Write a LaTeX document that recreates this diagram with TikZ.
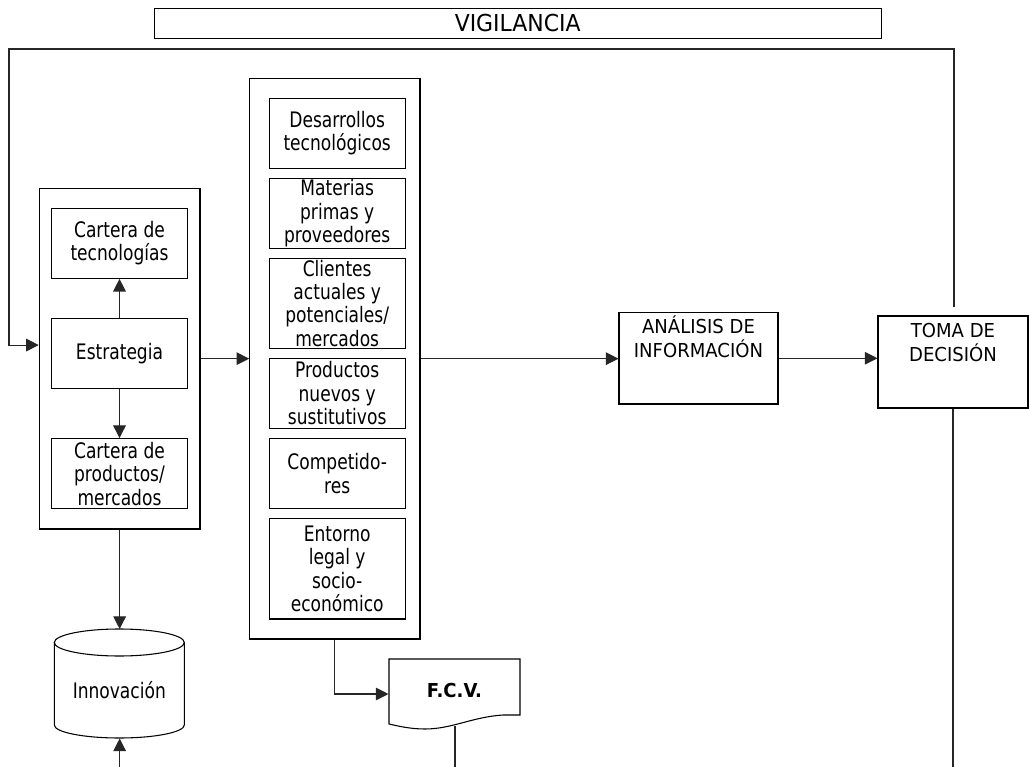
\documentclass[tikz,border=0pt]{standalone}
\usepackage{fontspec}
\setmainfont{DejaVu Sans}[FakeStretch=0.8]
\newfontfamily\capsfont{DejaVu Sans}[FakeStretch=0.94]
\usetikzlibrary{arrows.meta,calc}
\begin{document}
\begin{tikzpicture}[x=0.75pt,y=-0.75pt,
  line width=0.8pt,
  txt/.style={font=\fontsize{16pt}{17.6pt}\selectfont, align=center, inner sep=0pt},
  captxt/.style={font=\capsfont\fontsize{14.4pt}{17.8pt}\selectfont, align=center, inner sep=0pt},
  box/.style 2 args={draw, txt, minimum width=#1*0.75pt, minimum height=#2*0.75pt},
  arr/.style={draw=black!85, -{Triangle[length=9.5pt,width=9.5pt]}},
  link/.style={draw=black!85}]
\useasboundingbox (0,0) rectangle (1029,767);

% title bar
\node[box={726.7}{29.7}, font=\capsfont\fontsize{17.5pt}{20pt}\selectfont] (vig) at (517.7,23.2) {VIGILANCIA};

% strategy block
\node[box={160.7}{340.7}] (ext) at (119.65,358.65) {};
\node[box={135.6}{70}] (ctec) at (119.5,243.3) {Cartera de\\tecnologías};
\node[box={135.6}{70}] (estr) at (119.5,353.3) {Estrategia};
\node[box={135.6}{70}] (cprod) at (119.5,473.6) {Cartera de\\productos/\\mercados};

% monitored areas
\node[box={170.3}{560.7}] (mid) at (334.85,358.65) {};
\node[box={135.7}{70}] (des) at (337.2,133.3) {Desarrollos\\tecnológicos};
\node[box={135.7}{70}] (mat) at (337.2,213.3) {Materias\\primas y\\proveedores};
\node[box={135.7}{90}] (cli) at (337.2,303.3) {Clientes\\actuales y\\potenciales/\\mercados};
\node[box={135.7}{70}] (prod) at (337.2,393.5) {Productos\\nuevos y\\sustitutivos};
\node[box={135.7}{70}] (comp) at (337.2,473.7) {Competido-\\res};
\node[box={135.7}{100.3}] (ent) at (337.2,568.85) {Entorno\\legal y\\socio-\\económico};

% analysis and decision
\node[box={159}{91.5}] (ana) at (698.5,358.25) {};
\node[captxt, anchor=north] (anat) at (698.5,315.5) {ANÁLISIS DE\\INFORMACIÓN};
\node[box={150}{92}] (toma) at (953,362) {};
\node[captxt, anchor=north] (tomat) at (953,323) {TOMA DE\\DECISIÓN};

% innovation store
\draw (54.3,642.5) -- (54.3,725) arc[start angle=180,end angle=0,x radius=65,y radius=13] -- (184.3,642.5);
\draw (119.3,642.5) ellipse[x radius=65,y radius=13.5];
\node[txt] (innov) at (119.3,690) {Innovación};
\coordinate (cyltop) at (119.65,629);
\coordinate (cylbot) at (119.65,738.5);
\coordinate (innbot) at (119.65,767);

% F.C.V. document
\draw (389,659) -- (520,659) -- (520,715) -- (503,715)
  .. controls (472,717) and (452,729) .. (425,729)
  .. controls (410,729) and (398,726) .. (389,724) -- cycle;
\node[captxt, font=\capsfont\bfseries\fontsize{14.4pt}{17.8pt}\selectfont, minimum width=131*0.75pt, minimum height=64*0.75pt] (fcv) at (454.5,691) {F.C.V.};
\coordinate (fcvout) at (455,726);
\coordinate (fcvend) at (455,767);

% connectors
\draw[arr] (estr) -- (ctec);
\draw[arr] (estr) -- (cprod);
\draw[arr] (ext.east) -- (ext.east -| mid.west);
\draw[arr] (mid.east) -- (mid.east -| ana.west);
\draw[arr] (ana.east) -- (ana.east -| toma.west);
\draw[arr] (ext.south) -- (cyltop);
\draw[arr] (innbot) -- (cylbot);
\draw[arr] (mid.south) |- ([yshift=-2.25pt]fcv.west);
\draw[link] (fcvout) -- (fcvend);
\draw[link] (toma.south) -- (toma.south |- fcvend);

% feedback loop
\coordinate (fbtop) at ($(toma.north)+(1,-8)$);
\coordinate (fbcorner) at (9,49);
\draw[arr] (fbtop) |- (fbcorner) |- ([yshift=10.2pt]ext.west);
\end{tikzpicture}
\end{document}
